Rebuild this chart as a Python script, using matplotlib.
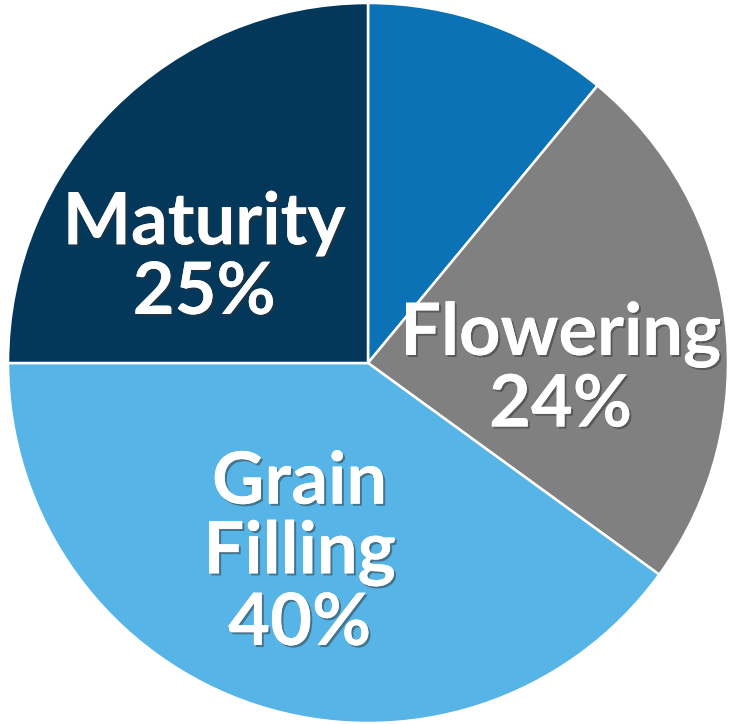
import matplotlib
matplotlib.use("Agg")
import matplotlib.pyplot as plt
import matplotlib.patheffects as pe

stages = ["Vegetative", "Flowering", "Grain\nFilling", "Maturity"]
shares = [11, 24, 40, 25]
colors = ["#0a72b5", "#808080", "#56b4e6", "#04385a"]
show_label = [False, True, True, True]

fig = plt.figure(figsize=(7.30, 7.24), dpi=100)
ax = fig.add_axes([0, 0, 1, 1])

wedges, _ = ax.pie(shares, colors=colors, startangle=90, counterclock=False,
                   wedgeprops=dict(edgecolor="white", linewidth=1.8))

# label spots (pie radius = 1)
spots = [None, (0.535, -0.02), (-0.19, -0.53), (-0.455, 0.29)]
shadow = [pe.withSimplePatchShadow(offset=(1.5, -1.5), shadow_rgbFace="#333333", alpha=0.5), pe.Normal()]
for name, v, spot, show in zip(stages, shares, spots, show_label):
    if not show:
        continue
    ax.text(spot[0], spot[1], f"{name}\n{v}%", ha="center", va="center",
            color="white", fontsize=52, fontweight="bold", family="Lato",
            linespacing=1.05, path_effects=shadow)

ax.set_xlim(-368 / 360, 362 / 360)
ax.set_ylim(-361 / 360, 363 / 360)
ax.set_aspect("auto")
ax.axis("off")

fig.savefig("out.png", dpi=100)
